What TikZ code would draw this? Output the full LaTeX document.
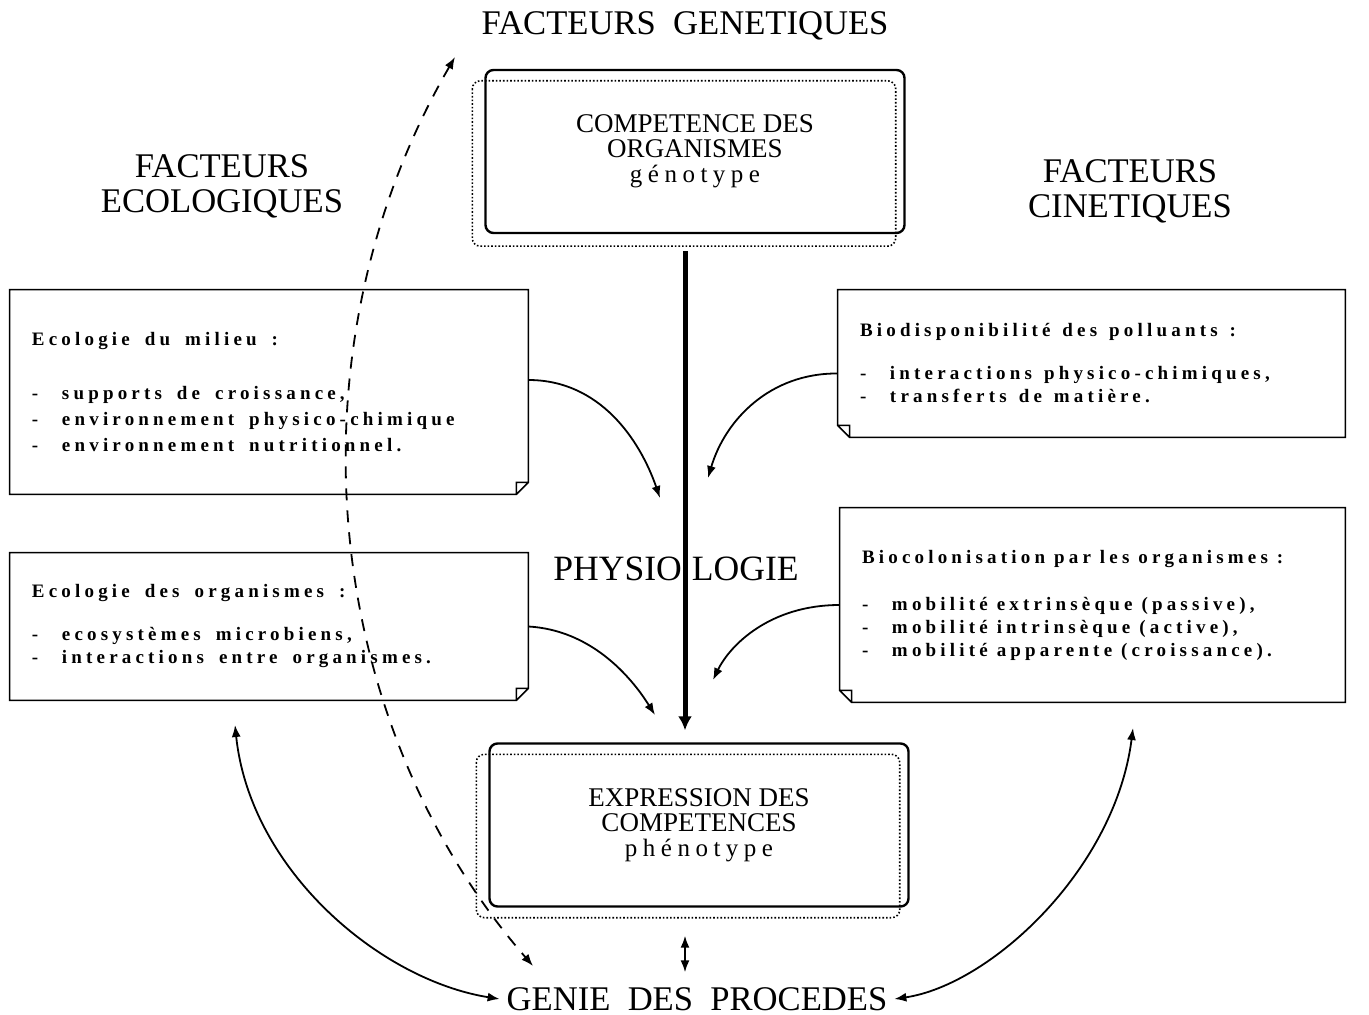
\documentclass[tikz,border=0pt]{standalone}
\usepackage{fontspec}
\setmainfont{Liberation Serif}
\newfontfamily\spaced{Liberation Serif}[LetterSpace=22]
\usetikzlibrary{arrows.meta}
\newcommand\tiret{\makebox[15pt][l]{-}}
\newcommand\listfont{\spaced\bfseries\fontsize{9.5}{11.5}\selectfont}

\begin{document}
\begin{tikzpicture}[x=0.5pt,y=-0.5pt,
    facteur/.style={align=center, font=\fontsize{17.3}{17.5}\selectfont},
    genebox/.style={draw, rounded corners=4pt, line width=1.2pt, minimum width=209.5pt,
      minimum height=81.5pt, align=center, font=\fontsize{13.5}{12.5}\selectfont},
    shadowbox/.style={draw, densely dotted, rounded corners=4pt, line width=0.8pt},
    listbox/.style={inner xsep=11pt, inner ysep=0pt, align=left, font=\listfont,
      execute at begin node={\def~{\hspace{#1}}}},
    listbox/.default=7.5pt,
    boxline/.style={line width=0.8pt},
    flow/.style={-{Latex[length=6pt,width=4.5pt]}, line width=0.9pt},
    twoway/.style={{Latex[length=6pt,width=4.5pt]}-{Latex[length=6pt,width=4.5pt]}, line width=0.9pt},
    mainarrow/.style={-{Latex[length=7pt,width=7pt]}, line width=2.5pt},
    geneflow/.style={twoway, dash pattern=on 6pt off 5pt}]
    \useasboundingbox (0,0) rectangle (1369,1015);

    % titres
    \node[facteur] (genet) at (685,26) {FACTEURS\enspace GENETIQUES};
    \node[facteur] (ecol) at (222,186) {FACTEURS\\ECOLOGIQUES};
    \node[facteur] (cinet) at (1130,191) {FACTEURS\\CINETIQUES};
    \node[facteur, font=\fontsize{17.8}{17.5}\selectfont] (phys) at (676,569) {PHYSIO\hspace{5pt}LOGIE};
    \node[facteur] (genie) at (697,999) {GENIE\enspace DES\enspace PROCEDES};

    % genotype / phenotype
    \node[genebox] (geno) at (695,151.5) {COMPETENCE DES\\ORGANISMES\\{\spaced\fontsize{12.5}{12.5}\selectfont génotype}};
    \draw[shadowbox] ([shift={(-12,12)}]geno.north west) rectangle ([shift={(-10,12)}]geno.south east);
    \node[genebox] (pheno) at (699,825) {EXPRESSION DES\\COMPETENCES\\{\spaced\fontsize{12.5}{12.5}\selectfont phénotype}};
    \draw[shadowbox] ([shift={(-12,12)}]pheno.north west) rectangle ([shift={(-10,10)}]pheno.south east);

    % cadres
    \node[listbox, text width=237pt, minimum height=102pt] (milieu) at (269,392)
      {Ecologie~du~milieu~:\\[15.5pt]
       \tiret supports~de~croissance,\\[1.7pt]
       \tiret environnement~physico-chimique\\[1.7pt]
       \tiret environnement~nutritionnel.};
    \node[listbox, text width=237pt, minimum height=73.5pt] (organ) at (269,626.5)
      {Ecologie~des~organismes~:\\[10pt]
       \tiret ecosystèmes~microbiens,\\
       \tiret interactions~entre~organismes.};
    \node[listbox=6pt, text width=231.5pt, minimum height=73.5pt] (biodisp) at (1091.5,363.5)
      {Biodisponibilité~des~polluants~:\\[10pt]
       \tiret interactions~physico-chimiques,\\
       \tiret transferts~de~matière.};
    \node[listbox=4.5pt, text width=230.5pt, minimum height=97pt] (colon) at (1092.5,605)
      {Biocolonisation~par~les~organismes~:\\[12pt]
       \tiret mobilité~extrinsèque~(passive),\\
       \tiret mobilité~intrinsèque~(active),\\
       \tiret mobilité~apparente~(croissance).};
    \foreach \b in {milieu,organ}
      \draw[boxline] (\b.north west) -- (\b.north east) -- ([yshift=6pt]\b.south east)
        -- ([xshift=-6pt]\b.south east) -- (\b.south west) -- cycle
        ([yshift=6pt]\b.south east) -| ([xshift=-6pt]\b.south east);
    \foreach \b in {biodisp,colon}
      \draw[boxline] (\b.north east) -- (\b.north west) -- ([yshift=6pt]\b.south west)
        -- ([xshift=6pt]\b.south west) -- (\b.south east) -- cycle
        ([yshift=6pt]\b.south west) -| ([xshift=6pt]\b.south west);

    % fleches
    \coordinate (axis) at (685,0);
    \coordinate (p1) at (660,498);
    \coordinate (p2) at (655,715);
    \coordinate (p3) at (708,478);
    \coordinate (p4) at (713,680);
    \coordinate (ecoend) at (235,725);
    \coordinate (cinend) at (1133,728);
    \coordinate (gtop) at (455,57);
    \coordinate (gbot) at (533,966);

    \draw[mainarrow, shorten <=8.5pt, shorten >=6pt] (geno.south -| axis) -- (pheno.north -| axis);
    \draw[twoway, shorten <=14pt, shorten >=4pt] (pheno.south -| axis) -- (genie.north -| axis);
    \draw[flow] ([yshift=6pt]milieu.east) .. controls (600,380) and (640,440) .. (p1);
    \draw[flow] (organ.east) .. controls (590,630) and (630,675) .. (p2);
    \draw[flow] ([yshift=-5pt]biodisp.west) .. controls (770,373) and (725,420) .. (p3);
    \draw[flow] (colon.west) .. controls (770,605) and (730,645) .. (p4);
    \draw[twoway] (ecoend) .. controls (250,870) and (380,980) .. (genie.west);
    \draw[twoway] (cinend) .. controls (1115,870) and (990,985) .. (genie.east);
    \draw[geneflow] (gtop) .. controls (285,350) and (320,720) .. (gbot);
\end{tikzpicture}
\end{document}
